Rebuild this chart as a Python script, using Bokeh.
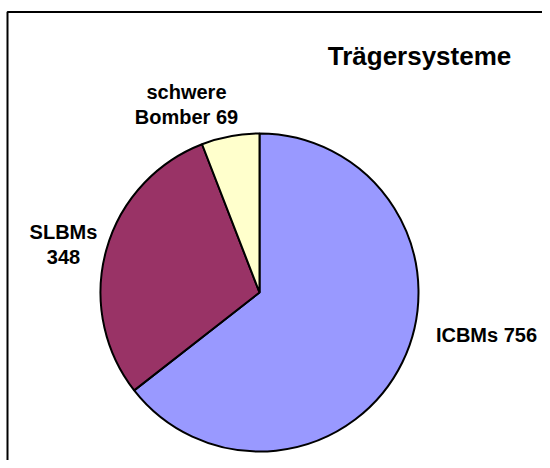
import math
from bokeh.plotting import figure
from bokeh.models import Range1d, ColumnDataSource
from bokeh.core.properties import value
from bokeh.embed import file_html
from bokeh.resources import INLINE

# ---- data ----
title_text = "Trägersysteme"
categories = ["ICBMs", "SLBMs", "schwere Bomber"]
values = [756, 348, 69]
colors = ["#9999FF", "#993366", "#FFFFCC"]
# label lines (category name and value, as in the chart)
label_lines = [
    [f"{categories[0]} {values[0]}"],
    [categories[1], f"{values[1]}"],
    [categories[2].split(" ")[0], f"{categories[2].split(' ')[1]} {values[2]}"],
]

# ---- layout (chart pixel coordinates, y downwards) ----
W, H = 542, 460
cx, cy_img, R = 259, 292, 159
label_anchor = [(486, 334), (63, 231), (186, 91)]  # x centre, first-line baseline
line_gap = 25

def py(y):
    return H - y

p = figure(width=W, height=H, x_range=Range1d(0, W), y_range=Range1d(0, H),
           output_backend="svg", toolbar_location=None, min_border=0,
           outline_line_color=None, background_fill_color="white",
           border_fill_color="white")
p.axis.visible = False
p.grid.visible = False

# frame border (left and top edges visible)
p.line(x=[7, 7, 700], y=[-20, py(11.5), py(11.5)], line_color="black", line_width=2)

# pie wedges, starting at 12 o'clock going clockwise
total = sum(values)
starts, ends = [], []
cum = 0
for v in values:
    a0 = math.radians(90 - cum * 360 / total)
    a1 = math.radians(90 - (cum + v) * 360 / total)
    starts.append(a1)
    ends.append(a0)
    cum += v
src = ColumnDataSource(dict(start=starts, end=ends, color=colors, cat=categories, val=values))
p.wedge(x=cx, y=py(cy_img), radius=R, start_angle="start", end_angle="end",
        fill_color="color", line_color="black", line_width=2, source=src)

# data labels
xs, ys, ts = [], [], []
for lines, (ax, ay) in zip(label_lines, label_anchor):
    for i, t in enumerate(lines):
        xs.append(ax)
        ys.append(py(ay + i * line_gap))
        ts.append(t)
p.text(x=xs, y=ys, text=ts, text_font=value("Liberation Sans"), text_font_style="bold",
       text_font_size="20px", text_align="center", text_baseline="alphabetic",
       text_color="black")

# title
p.text(x=[419], y=[py(55)], text=[title_text], text_font=value("Liberation Sans"),
       text_font_style="bold", text_font_size="26px", text_align="center",
       text_baseline="alphabetic", text_color="black")

open("out.html", "w").write(file_html(p, INLINE))
